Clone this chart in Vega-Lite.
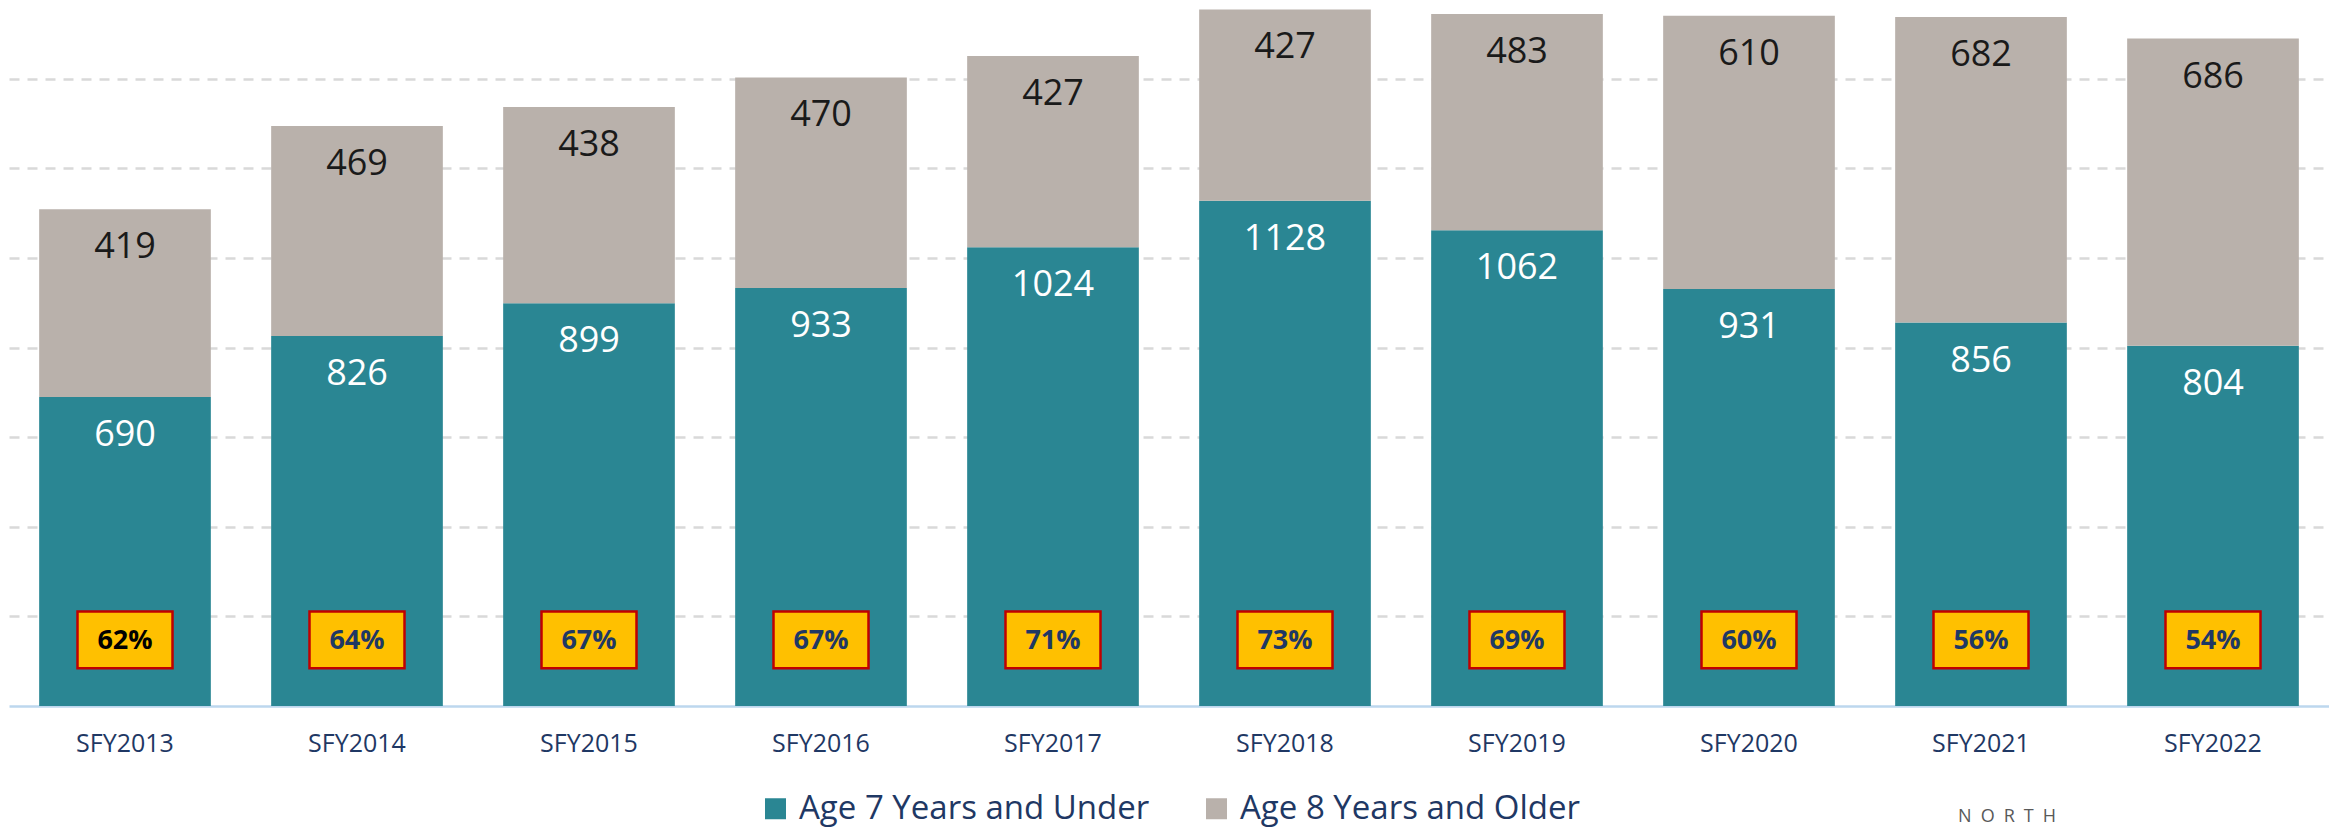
{
  "$schema": "https://vega.github.io/schema/vega-lite/v6.json",
  "width": 2320,
  "height": 706,
  "autosize": {"type": "none"},
  "padding": {"left": 9, "top": 0, "right": 0, "bottom": 123},
  "background": "white",
  "config": {
    "view": {"stroke": null},
    "font": "Open Sans",
    "legend": {"layout": {"bottom": {"anchor": "middle"}}}
  },
  "data": {
    "values": [
      {"year": "SFY2013", "Age 7 Years and Under": 690, "Age 8 Years and Older": 419, "pct": "62%"},
      {"year": "SFY2014", "Age 7 Years and Under": 826, "Age 8 Years and Older": 469, "pct": "64%"},
      {"year": "SFY2015", "Age 7 Years and Under": 899, "Age 8 Years and Older": 438, "pct": "67%"},
      {"year": "SFY2016", "Age 7 Years and Under": 933, "Age 8 Years and Older": 470, "pct": "67%"},
      {"year": "SFY2017", "Age 7 Years and Under": 1024, "Age 8 Years and Older": 427, "pct": "71%"},
      {"year": "SFY2018", "Age 7 Years and Under": 1128, "Age 8 Years and Older": 427, "pct": "73%"},
      {"year": "SFY2019", "Age 7 Years and Under": 1062, "Age 8 Years and Older": 483, "pct": "69%"},
      {"year": "SFY2020", "Age 7 Years and Under": 931, "Age 8 Years and Older": 610, "pct": "60%"},
      {"year": "SFY2021", "Age 7 Years and Under": 856, "Age 8 Years and Older": 682, "pct": "56%"},
      {"year": "SFY2022", "Age 7 Years and Under": 804, "Age 8 Years and Older": 686, "pct": "54%"}
    ]
  },
  "encoding": {
    "x": {
      "field": "year",
      "type": "nominal",
      "sort": null,
      "scale": {"paddingInner": 0.26, "paddingOuter": 0.13},
      "axis": {
        "title": null,
        "labelAngle": 0,
        "labelFontSize": 25,
        "labelColor": "#1F3864",
        "ticks": false,
        "labelPadding": 25,
        "domainColor": "#BDD7EE",
        "domainWidth": 2.5
      }
    }
  },
  "layer": [
    {
      "transform": [
        {"fold": ["Age 7 Years and Under", "Age 8 Years and Older"], "as": ["group", "value"]},
        {"stack": "value", "groupby": ["year"], "sort": [{"field": "group", "order": "ascending"}], "as": ["v0", "v1"]}
      ],
      "layer": [
        {
          "mark": {"type": "bar"},
          "encoding": {
            "y": {
              "field": "v1",
              "type": "quantitative",
              "title": null,
              "scale": {"domain": [0, 1576], "nice": false, "zero": true},
              "axis": {
                "title": null,
                "labels": false,
                "ticks": false,
                "domain": false,
                "grid": true,
                "gridColor": "#D9D9D9",
                "gridDash": [10, 8],
                "gridWidth": 2.5,
                "values": [200, 400, 600, 800, 1000, 1200, 1400]
              }
            },
            "y2": {"field": "v0"},
            "color": {
              "field": "group",
              "type": "nominal",
              "scale": {
                "domain": ["Age 7 Years and Under", "Age 8 Years and Older"],
                "range": ["#2A8693", "#B9B1AB"]
              },
              "legend": {
                "orient": "bottom",
                "direction": "horizontal",
                "title": null,
                "symbolType": "square",
                "symbolSize": 441,
                "symbolStrokeWidth": 0,
                "labelFontSize": 33,
                "labelColor": "#1F3864",
                "labelOffset": 7,
                "columnPadding": 50,
                "offset": 36,
                "labelLimit": 0
              }
            }
          }
        },
        {
          "mark": {"type": "text", "baseline": "middle", "dy": 38, "fontSize": 36},
          "encoding": {
            "y": {"field": "v1", "type": "quantitative", "title": null, "scale": {"domain": [0, 1576], "nice": false}},
            "text": {"field": "value", "type": "quantitative"},
            "color": {
              "condition": {"test": "datum.group === 'Age 7 Years and Under'", "value": "#ffffff"},
              "value": "#1a1a1a"
            }
          }
        }
      ]
    },
    {
      "mark": {"type": "bar", "width": 95, "fill": "#FFC000", "stroke": "#C00000", "strokeWidth": 2.5},
      "encoding": {
        "y": {"datum": 84, "type": "quantitative", "title": null, "scale": {"domain": [0, 1576], "nice": false}},
        "y2": {"datum": 211}
      }
    },
    {
      "mark": {"type": "text", "fontSize": 27, "fontWeight": "bold", "baseline": "middle"},
      "encoding": {
        "y": {"datum": 146, "type": "quantitative", "title": null, "scale": {"domain": [0, 1576], "nice": false}},
        "text": {"field": "pct"},
        "color": {
          "condition": {"test": "datum.year === 'SFY2013'", "value": "#000000"},
          "value": "#1F3864"
        }
      }
    },
    {
      "data": {"values": [{"label": "N\u2002O\u2002R\u2002T\u2002H"}]},
      "mark": {"type": "text", "fontSize": 18, "baseline": "middle", "color": "#595959", "dx": 26},
      "encoding": {
        "x": {"datum": "SFY2021"},
        "y": {"datum": -248, "type": "quantitative", "title": null, "scale": {"domain": [0, 1576], "nice": false}},
        "text": {"field": "label"}
      }
    }
  ]
}
